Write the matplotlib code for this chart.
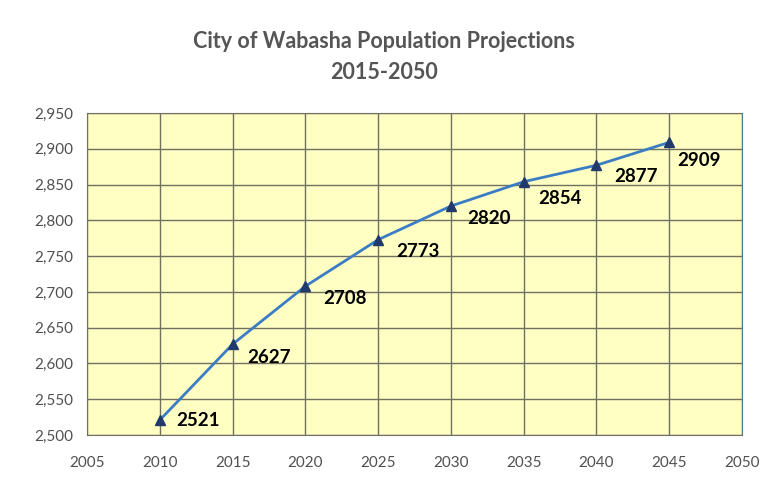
import matplotlib
matplotlib.use("Agg")
import matplotlib.pyplot as plt
from matplotlib.ticker import FuncFormatter, MultipleLocator

years = [2010, 2015, 2020, 2025, 2030, 2035, 2040, 2045]
population = [2521, 2627, 2708, 2773, 2820, 2854, 2877, 2909]
title_lines = ["City of Wabasha Population Projections", "2015-2050"]

# label offsets in pixels (right, down) relative to each point
label_offsets = [(16, 1), (15, 13), (18, 12), (18, 12), (16, 12), (15, 17), (18, 11), (8, 18)]

plt.rcParams['font.family'] = ['Lato', 'DejaVu Sans']

fig = plt.figure(figsize=(7.61, 4.82), dpi=100)
fig.patch.set_facecolor('white')
ax = fig.add_axes([0.1145, 0.0975, 0.8605, 0.668])
ax.set_facecolor('#FFFFC4')

ax.plot(years, population, color='#3B7DC4', lw=2, marker='^', ms=7.5,
        mfc='#1F3A6B', mec='#1F3A6B', zorder=3, clip_on=False)
for (x, y), (dx, dy) in zip(zip(years, population), label_offsets):
    ax.annotate(str(y), (x, y), xytext=(dx * 0.72, -dy * 0.72), textcoords='offset points',
                fontsize=13.5, fontweight='bold', color='black', va='center', ha='left')

ax.set_xlim(2005, 2050)
ax.set_ylim(2500, 2950)
ax.xaxis.set_major_locator(MultipleLocator(5))
ax.yaxis.set_major_locator(MultipleLocator(50))
ax.yaxis.set_major_formatter(FuncFormatter(lambda v, p: f"{int(v):,}"))
ax.grid(True, color='#707060', lw=1)
ax.set_axisbelow(True)
ax.tick_params(length=0, labelsize=11, colors='#505050')
ax.tick_params(axis='x', pad=15)
ax.tick_params(axis='y', pad=10)
for s in ax.spines.values():
    s.set_color('#707060')
ax.spines['right'].set_color('#4A7A9A')

fig.text(0.505, 0.913, title_lines[0], ha='center', va='center', fontsize=15.5,
         fontweight='bold', color='#555555')
fig.text(0.505, 0.849, title_lines[1], ha='center', va='center', fontsize=15.5,
         fontweight='bold', color='#555555')

fig.savefig('out.png', dpi=100)
